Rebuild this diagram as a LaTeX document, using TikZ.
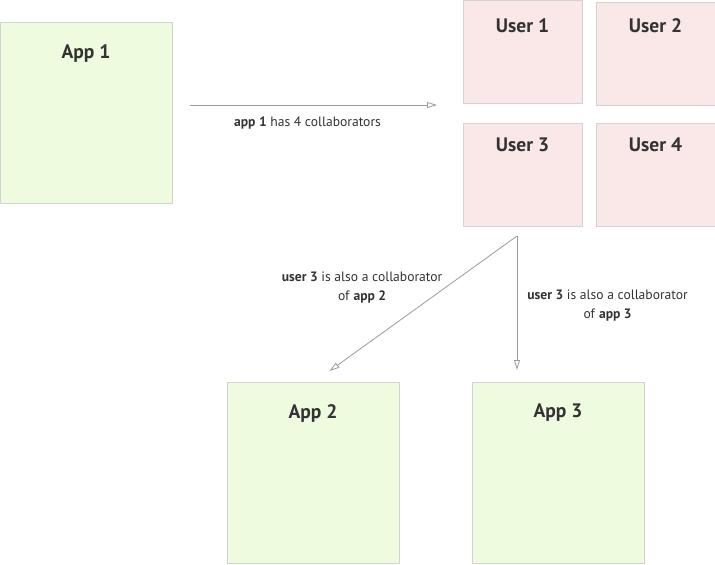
\documentclass[tikz,border=0pt]{standalone}
\usepackage{fontspec}
\setmainfont{PT Sans}
\usetikzlibrary{positioning,arrows.meta}
\definecolor{appgreen}{HTML}{EFFBDF}
\definecolor{userpink}{HTML}{FAE7E7}
\definecolor{boxline}{HTML}{D3D3D3}
\definecolor{arrowgray}{HTML}{9A9A9A}
\definecolor{textgray}{HTML}{333333}

\begin{document}
\begin{tikzpicture}[
		x=1pt, y=-1pt,
		>={Triangle[open, length=10pt, width=6pt]},
		node distance=14pt,
		every node/.style={text=textgray},
		box/.style={draw=boxline, line width=1pt, outer sep=0pt, anchor=north west},
		app/.style={box, fill=appgreen, minimum width=172pt, minimum height=181pt},
		user/.style={box, fill=userpink, minimum width=119pt, minimum height=103pt},
		title/.style={font=\fontsize{19.5}{22}\selectfont\bfseries, inner sep=0pt, below=22pt},
		flow/.style={->, arrowgray, line width=0.8pt},
		note/.style={font=\fontsize{13.6}{18.5}\selectfont, inner sep=0pt, align=center}
	]
	\useasboundingbox (0,0) rectangle (715,565);

	% apps
	\node(app1)[app, label={[title]north:App 1}] at (0,22) {};
	\node(app2)[app, label={[title]north:App 2}] at (227,382) {};
	\node(app3)[app, right=73pt of app2, label={[title]north:App 3}] {};

	% users
	\node(user1)[user, label={[title, below=18pt]north:User 1}] at (463,0) {};
	\node(user2)[user, right=of user1, yshift=-2pt, label={[title, below=16pt]north:User 2}] {};
	\node(user3)[user, below=20pt of user1, label={[title, below=15pt]north:User 3}] {};
	\node(user4)[user, right=of user3, label={[title, below=15pt]north:User 4}] {};

	\coordinate(fork) at ([shift={(-5.5,10)}]user3.south);

	\draw[flow] ([shift={(18,-7.5)}]app1.east) -- ([shift={(-26,-7.5)}]app1.east -| user1.west)
		node[note, midway, below=11pt, xshift=-6pt]{\textbf{app 1} has 4 collaborators};
	\draw[flow] (fork) -- ([shift={(16.5,-11)}]app2.north)
		node[note, pos=0.38, left=3pt]{\textbf{user 3} is also a collaborator\\of \textbf{app 2}};
	\draw[flow] (fork) -- ([yshift=12pt]fork |- app3.north)
		node[note, pos=0.52, right=10pt]{\textbf{user 3} is also a collaborator\\of \textbf{app 3}};

\end{tikzpicture}
\end{document}
